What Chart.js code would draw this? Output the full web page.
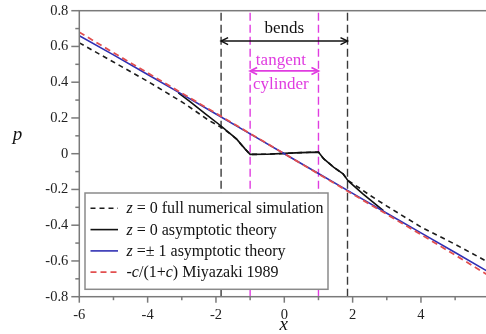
<!DOCTYPE html>
<html>
<head>
<meta charset="utf-8">
<script src="https://cdn.jsdelivr.net/npm/chart.js@4.4.1/dist/chart.umd.min.js"></script>
<style>
  html, body { margin: 0; padding: 0; overflow: hidden; background: #fff; }
  canvas { display: block; }
</style>
</head>
<body>
<canvas id="chart" width="500" height="334"></canvas>
<script>
// ---- data -------------------------------------------------------------
// x grid for the two nearly straight curves
const xLinear = [-6, -5, -4, -3, -2, -1, 0, 1, 2, 3, 4, 5, 6];
// z = ±1 asymptotic theory
const pSideTheory = [0.66, 0.553, 0.443, 0.333, 0.222, 0.111, 0, -0.111, -0.222, -0.333, -0.443, -0.553, -0.664];
// -c/(1+c), Miyazaki 1989
const pMiyazaki = [0.68, 0.565, 0.452, 0.339, 0.226, 0.113, 0, -0.113, -0.226, -0.339, -0.452, -0.567, -0.684];

// z = 0 full numerical simulation
const xNumerical = [-6, -5, -4, -3, -2.5, -2.2, -1.85, -1.7, -1.4, -1.15, -1, -0.5, 0, 0.5, 1, 1.15, 1.45, 1.72, 1.87, 2.2, 2.5, 3, 4, 5, 6];
const pNumerical = [0.62, 0.513, 0.405, 0.29, 0.225, 0.185, 0.148, 0.128, 0.082, 0.026, -0.004, -0.003, 0.002, 0.006, 0.009, -0.028, -0.076, -0.113, -0.15, -0.192, -0.232, -0.293, -0.41, -0.507, -0.61];

// z = 0 asymptotic theory (departs from the straight line across the bends)
const xAsymptotic = [-3.1, -2.75, -2.3, -1.85, -1.7, -1.4, -1.15, -1, -0.5, 0, 0.5, 1, 1.15, 1.45, 1.72, 1.87, 2.3, 2.9];
const pAsymptotic = [0.34, 0.29, 0.222, 0.155, 0.13, 0.083, 0.027, -0.004, -0.003, 0.002, 0.006, 0.009, -0.028, -0.076, -0.113, -0.152, -0.225, -0.318];

// extent of the bends and of the tangent cylinder
const bendEdges = [-1.85, 1.85];
const cylinderEdges = [-1, 1];

// axis ticks
const xTickValues = [-6, -4, -2, 0, 2, 4, 6];
const yTickValues = [-0.8, -0.6, -0.4, -0.2, 0, 0.2, 0.4, 0.6, 0.8];

// legend text; *...* marks italic pieces
const seriesLabels = [
  '*z* = 0 full numerical simulation',
  '*z* = 0 asymptotic theory',
  '*z* =\u00b1 1 asymptotic theory',
  '*-c*/(1+*c*) Miyazaki 1989'
];

// ---- helpers ----------------------------------------------------------
const SERIF = '"Liberation Serif", "DejaVu Serif", serif';
const AXIS_GREY = '#7a7a7a';
const MAGENTA = '#e03ce0';
const zip = (xs, ys) => xs.map((x, i) => ({ x, y: ys[i] }));
const verticalAt = v => [{ x: v, y: -0.8 }, { x: v, y: 0.8 }];

function plainText(s) { return s.replace(/\*/g, ''); }

function drawRich(ctx, text, x, y, size) {
  text.split('*').forEach((seg, i) => {
    ctx.font = (i % 2 ? 'italic ' : '') + size + 'px ' + SERIF;
    ctx.fillText(seg, x, y);
    x += ctx.measureText(seg).width;
  });
}

function line(ctx, x1, y1, x2, y2) {
  ctx.beginPath(); ctx.moveTo(x1, y1); ctx.lineTo(x2, y2); ctx.stroke();
}

function doubleArrow(ctx, x1, x2, y, color, width) {
  ctx.save();
  ctx.strokeStyle = color; ctx.lineWidth = width; ctx.setLineDash([]);
  ctx.lineJoin = 'miter';
  line(ctx, x1, y, x2, y);
  const hl = 7, hw = 3.5;
  ctx.beginPath();
  ctx.moveTo(x1 + hl, y - hw); ctx.lineTo(x1, y); ctx.lineTo(x1 + hl, y + hw);
  ctx.moveTo(x2 - hl, y - hw); ctx.lineTo(x2, y); ctx.lineTo(x2 - hl, y + hw);
  ctx.stroke();
  ctx.restore();
}

// ---- datasets ---------------------------------------------------------
const guideStyle = { pointRadius: 0, borderWidth: 1.4, borderDash: [8, 4], showLine: true, isGuide: true };

const datasets = [
  { label: plainText(seriesLabels[0]), data: zip(xNumerical, pNumerical), borderColor: '#1c1c1c', borderWidth: 1.6, borderDash: [5, 4], order: 5 },
  { label: plainText(seriesLabels[1]), data: zip(xAsymptotic, pAsymptotic), borderColor: '#111111', borderWidth: 1.6, order: 4 },
  { label: plainText(seriesLabels[2]), data: zip(xLinear, pSideTheory), borderColor: '#3030b4', borderWidth: 1.6, order: 3 },
  { label: plainText(seriesLabels[3]), data: zip(xLinear, pMiyazaki), borderColor: '#e24f4f', borderWidth: 1.8, borderDash: [6, 4], order: 2 },
  ...bendEdges.map(v => Object.assign({ label: 'bend edge', data: verticalAt(v), borderColor: '#3a3a3a', order: 7 }, guideStyle)),
  ...cylinderEdges.map(v => Object.assign({ label: 'cylinder edge', data: verticalAt(v), borderColor: MAGENTA, order: 6 }, guideStyle))
].map(d => Object.assign({ pointRadius: 0, showLine: true, tension: 0, fill: false }, d));

// ---- decorations drawn on the chart ----------------------------------
const decorations = {
  id: 'decorations',
  afterDatasetsDraw(chart) {
    const { ctx, chartArea: a, scales: { x, y } } = chart;
    ctx.save();

    // bends and tangent-cylinder arrows with their captions
    doubleArrow(ctx, x.getPixelForValue(bendEdges[0]), x.getPixelForValue(bendEdges[1]), y.getPixelForValue(0.63), '#111', 1.5);
    doubleArrow(ctx, x.getPixelForValue(cylinderEdges[0]), x.getPixelForValue(cylinderEdges[1]), y.getPixelForValue(0.463), MAGENTA, 1.8);
    ctx.textAlign = 'center';
    ctx.textBaseline = 'alphabetic';
    ctx.font = '17px ' + SERIF;
    ctx.fillStyle = '#111';
    ctx.fillText('bends', x.getPixelForValue(0), y.getPixelForValue(0.673));
    ctx.fillStyle = MAGENTA;
    ctx.fillText('tangent', x.getPixelForValue(-0.1), y.getPixelForValue(0.497));
    ctx.fillText('cylinder', x.getPixelForValue(-0.1), y.getPixelForValue(0.36));

    // frame
    ctx.strokeStyle = AXIS_GREY;
    ctx.lineWidth = 1.5;
    ctx.setLineDash([]);
    ctx.strokeRect(a.left, a.top, a.right - a.left, a.bottom - a.top);

    // major and minor tick marks, pointing outwards
    for (let v = -6; v <= 6; v++) {
      const px = x.getPixelForValue(v);
      line(ctx, px, a.bottom, px, a.bottom + (v % 2 === 0 ? 6 : 3.5));
    }
    for (let i = -8; i <= 8; i++) {
      const py = y.getPixelForValue(i / 10);
      line(ctx, a.left - (i % 2 === 0 ? 8 : 4), py, a.left, py);
    }

    // axis titles
    ctx.fillStyle = '#111';
    ctx.font = 'italic 19px ' + SERIF;
    ctx.textAlign = 'center';
    ctx.fillText('p', 17.5, 139.5);
    ctx.fillText('x', (a.left + a.right) / 2 - 0.5, 330);

    // legend
    const box = { left: a.left + 5.7, top: a.top + 182.3, w: 243, h: 96.3 };
    ctx.fillStyle = '#fff';
    ctx.fillRect(box.left, box.top, box.w, box.h);
    ctx.strokeStyle = '#8a8a8a';
    ctx.lineWidth = 1.5;
    ctx.strokeRect(box.left, box.top, box.w, box.h);
    const rowStep = 21.3, firstRow = box.top + 15.3;
    chart.data.datasets.filter(d => !d.isGuide).forEach((d, i) => {
      const cy = firstRow + i * rowStep;
      ctx.strokeStyle = d.borderColor;
      ctx.lineWidth = d.borderWidth;
      ctx.setLineDash(d.borderDash || []);
      line(ctx, box.left + 5.5, cy, box.left + 33, cy);
      ctx.setLineDash([]);
      ctx.fillStyle = '#111';
      ctx.textAlign = 'left';
      drawRich(ctx, seriesLabels[i], box.left + 41.5, cy + 5, 16);
    });
    ctx.restore();
  }
};

// ---- chart ------------------------------------------------------------
const tickFont = { family: SERIF, size: 14.5 };

new Chart(document.getElementById('chart'), {
  type: 'scatter',
  data: { datasets },
  options: {
    responsive: false,
    devicePixelRatio: 1,
    animation: false,
    layout: { padding: { top: 10.7, right: 10.7, left: 0, bottom: 0 } },
    plugins: { legend: { display: false }, tooltip: { enabled: false } },
    scales: {
      x: {
        type: 'linear', min: -6, max: 6,
        afterBuildTicks: s => { s.ticks = xTickValues.map(v => ({ value: v })); },
        afterFit: s => { s.height = 37.3; s.paddingLeft = 0; s.paddingRight = 0; },
        grid: { display: false, drawTicks: false },
        border: { display: false },
        ticks: { font: tickFont, color: '#222', padding: 10, maxRotation: 0, autoSkip: false }
      },
      y: {
        type: 'linear', min: -0.8, max: 0.8,
        afterBuildTicks: s => { s.ticks = yTickValues.map(v => ({ value: v })); },
        afterFit: s => { s.width = 79.3; s.paddingTop = 0; s.paddingBottom = 0; },
        grid: { display: false, drawTicks: false },
        border: { display: false },
        ticks: { font: tickFont, color: '#222', padding: 11, autoSkip: false }
      }
    }
  },
  plugins: [decorations]
});
</script>
</body>
</html>
